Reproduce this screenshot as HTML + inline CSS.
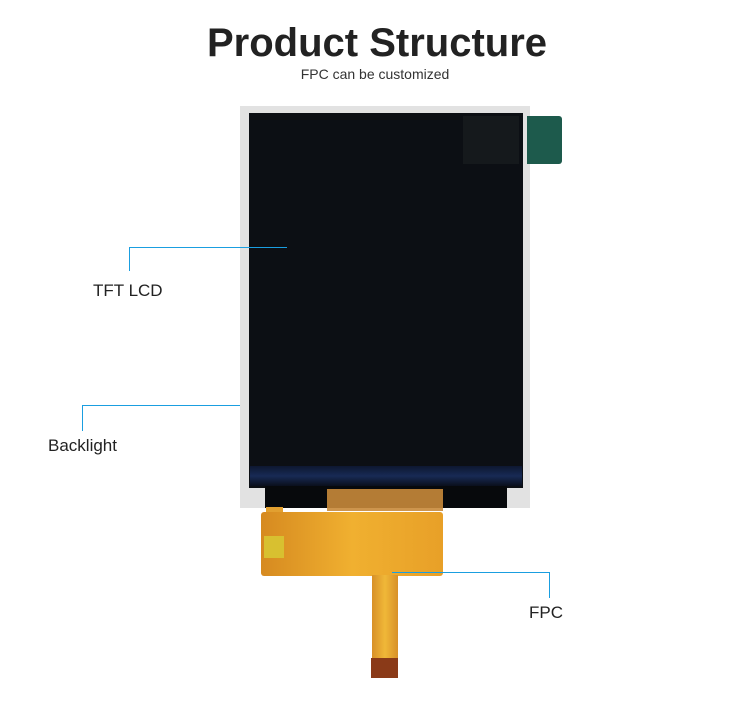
<!DOCTYPE html>
<html><head><style>
body{margin:0;width:750px;height:708px;background:#fff;position:relative;overflow:hidden;font-family:"Liberation Sans",sans-serif;}
.a{position:absolute;}
.t{position:absolute;font-size:17px;color:#222;}
.l{position:absolute;background:#1a9ee0;}
</style></head><body>
<div class="a" style="left:0;width:754px;top:21px;text-align:center;font-size:40px;font-weight:bold;color:#222;">Product Structure</div>
<div class="a" style="left:0;width:750px;top:66px;text-align:center;font-size:14px;color:#333;">FPC can be customized</div>

<div class="a" style="left:240px;top:106px;width:290px;height:402px;background:#e2e2e2;"></div>
<div class="a" style="left:249px;top:113px;width:274px;height:375px;background:#0c0f14;"></div>
<div class="a" style="left:463px;top:116px;width:56px;height:48px;background:#15191c;"></div>
<div class="a" style="left:527px;top:116px;width:35px;height:48px;background:#1d5a4c;border-radius:0 3px 3px 0;"></div>
<div class="a" style="left:250px;top:466px;width:272px;height:20px;background:linear-gradient(#0d1730,#182a55,#0a0f1c);"></div>
<div class="a" style="left:265px;top:486px;width:242px;height:22px;background:#07090c;"></div>

<div class="a" style="left:327px;top:489px;width:116px;height:22px;background:#c88a3a;opacity:.9;"></div>
<div class="a" style="left:266px;top:507px;width:17px;height:8px;background:#e2a030;"></div>
<div class="a" style="left:261px;top:512px;width:182px;height:64px;background:linear-gradient(90deg,#d68a20,#f0b030 50%,#e8a028);border-radius:3px;"></div>
<div class="a" style="left:264px;top:536px;width:20px;height:22px;background:#d8c030;"></div>
<div class="a" style="left:372px;top:575px;width:26px;height:84px;background:linear-gradient(90deg,#d89028,#f0b838,#d89028);"></div>
<div class="a" style="left:371px;top:658px;width:27px;height:20px;background:#8a3a18;"></div>

<div class="l" style="left:129px;top:247px;width:158px;height:1px;"></div>
<div class="l" style="left:129px;top:247px;width:1px;height:24px;"></div>
<div class="t" style="left:93px;top:281px;">TFT LCD</div>
<div class="l" style="left:82px;top:405px;width:158px;height:1px;"></div>
<div class="l" style="left:82px;top:405px;width:1px;height:26px;"></div>
<div class="t" style="left:48px;top:436px;">Backlight</div>
<div class="l" style="left:392px;top:572px;width:158px;height:1px;"></div>
<div class="l" style="left:549px;top:572px;width:1px;height:26px;"></div>
<div class="t" style="left:529px;top:603px;">FPC</div>
</body></html>
